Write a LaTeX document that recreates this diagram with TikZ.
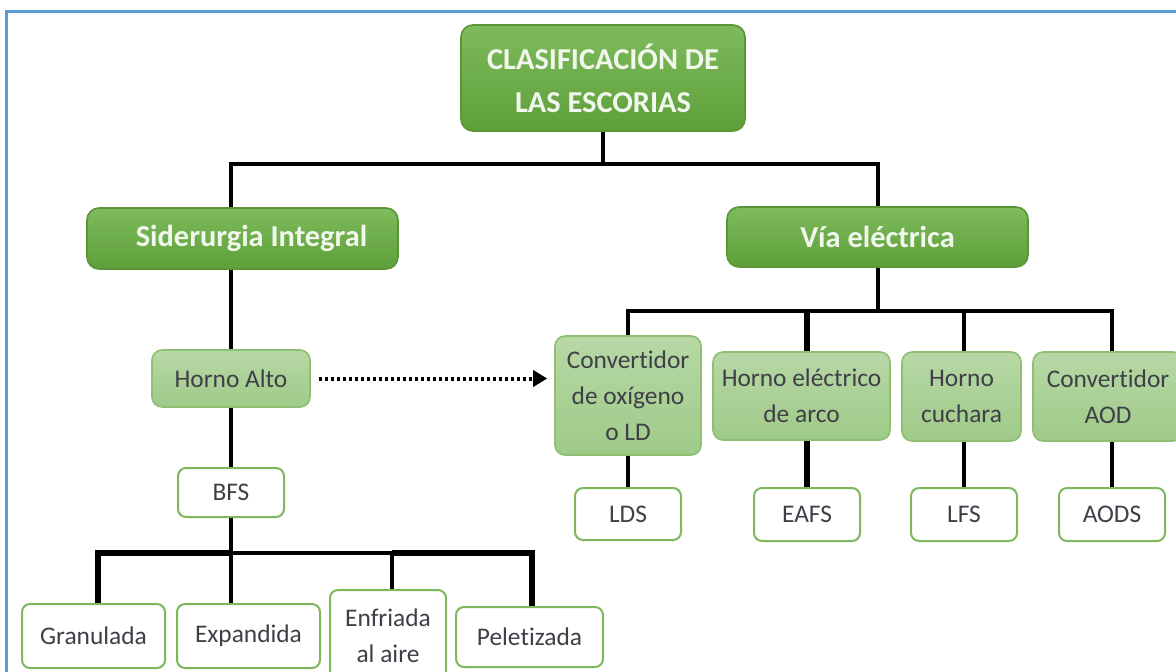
\documentclass[tikz,border=0pt]{standalone}
\usepackage{fontspec}
\setmainfont{Carlito}[Ligatures=NoCommon]
\usetikzlibrary{positioning,arrows.meta}

\definecolor{leaftop}{HTML}{7EBB5C}
\definecolor{leafbottom}{HTML}{5E9F3A}
\definecolor{leafborder}{HTML}{5A9638}
\definecolor{leaftext}{HTML}{F1F7EC}
\definecolor{paletop}{HTML}{B7D8A6}
\definecolor{palebottom}{HTML}{9FCA88}
\definecolor{paleborder}{HTML}{8DC072}
\definecolor{slagborder}{HTML}{7DB85C}
\definecolor{inkgrey}{HTML}{3F3F48}
\definecolor{frameblue}{HTML}{5B9BD5}

\begin{document}
\begin{tikzpicture}[x=0.5pt,y=-0.5pt,
    every node/.style={align=center,inner sep=0pt},
    mainbox/.style={draw=leafborder,line width=0.8pt,rounded corners=6pt,
        top color=leaftop,bottom color=leafbottom,text=leaftext,
        font=\bfseries\fontsize{15.2}{21.5}\selectfont},
    furnace/.style={draw=paleborder,line width=0.8pt,rounded corners=5pt,
        top color=paletop,bottom color=palebottom,text=inkgrey,
        font=\fontsize{12.7}{18}\selectfont},
    slagbox/.style={draw=slagborder,line width=1pt,rounded corners=4pt,
        fill=white,text=inkgrey,font=\fontsize{12.7}{18}\selectfont},
    tree/.style={draw=black,line width=2pt},
    heavytree/.style={draw=black,line width=3pt}]
    \useasboundingbox (0,0) rectangle (1176,671);
    \clip (0,0) rectangle (1176,671);
    \draw[frameblue,line width=1.5pt] (6,11) rectangle (1190,700);

    %%%%% THE ROOT
    \node[mainbox,minimum width=142pt,minimum height=53pt] (ROOT) at (603,78)
        {CLASIFICACIÓN DE\\LAS ESCORIAS};
    \node[mainbox,minimum width=155.5pt,minimum height=30.5pt] (SID) at (242.5,238.5)
        {\hspace*{9pt}Siderurgia Integral};
    \node[mainbox,minimum width=150.5pt,minimum height=30pt] (VIA) at (877.5,237)
        {Vía eléctrica};

    %%%%% SIDERURGIA INTEGRAL
    \begin{scope}
      \node[furnace,minimum width=79pt,minimum height=28.5pt] (HA) at (231,378.5) {Horno Alto};
      \node[slagbox,minimum width=53pt,minimum height=24.5pt] (BFS) at (231,492.5) {BFS};
      \node[slagbox,minimum width=71.5pt,minimum height=32pt] (GRAN) at (93.5,636) {Granulada};
      \node[slagbox,minimum width=71.5pt,minimum height=32pt] (EXP) at (248.5,636) {Expandida};
      \node[slagbox,minimum width=58pt,minimum height=46pt] (ENF) at (388,636) {Enfriada\\al aire};
      \node[slagbox,minimum width=73.5pt,minimum height=30pt] (PEL) at (529.5,637) {Peletizada};
    \end{scope}

    %%%%% VIA ELECTRICA
    \begin{scope}
      \node[furnace,minimum width=73pt,minimum height=59.5pt] (LD) at (628,395.5)
          {Convertidor\\de oxígeno\\o LD};
      \node[furnace,minimum width=88.5pt,minimum height=44pt] (EAF) at (801.5,396)
          {Horno eléctrico\\de arco};
      \node[furnace,minimum width=59.5pt,minimum height=44.5pt] (LF) at (961.5,396.5)
          {Horno\\cuchara};
      \node[furnace,minimum width=75pt,minimum height=44.5pt] (AOD) at (1108,396.5)
          {Convertidor\\AOD};
      \node[slagbox,minimum width=53pt,minimum height=26pt] (LDS) at (628,514) {LDS};
      \node[slagbox,minimum width=53pt,minimum height=26.5pt] (EAFS) at (807,514.5) {EAFS};
      \node[slagbox,minimum width=53pt,minimum height=26.5pt] (LFS) at (964,514.5) {LFS};
      \node[slagbox,minimum width=53pt,minimum height=26.5pt] (AODS) at (1112,514.5) {AODS};
    \end{scope}

    %%%% LINKS OF THE TREE
    \draw[tree] (ROOT.south) -- ++(0,32) coordinate (TOPBAR);
    \draw[tree] (SID.north -| HA.north) |- (TOPBAR) -| (VIA.north);
    \draw[tree] (SID.south -| HA.north) -- (HA.north);
    \draw[tree] (HA) -- (BFS);
    \draw[tree] (BFS.south) -- (BFS.south |- EXP.north);
    \coordinate (LOWBAR) at (BFS.south |- 0,553);
    \draw[heavytree] ([xshift=2pt]GRAN.north) |- (LOWBAR);
    \draw[tree] (LOWBAR) -| ([xshift=2pt]ENF.north);
    \draw[heavytree] ([xshift=2pt]ENF.north |- LOWBAR) -| ([xshift=1pt]PEL.north);

    \draw[tree] (VIA.south) -- ++(0,43) coordinate (RIGHTBAR);
    \draw[tree] (LD.north) |- (RIGHTBAR) -| ([xshift=2pt]AOD.north);
    \draw[heavytree] (RIGHTBAR -| EAFS.north) -- (EAFS.north |- EAF.north);
    \draw[tree] (RIGHTBAR -| LFS.north) -- (LFS.north |- LF.north);
    \draw[tree] (LD) -- (LDS);
    \draw[heavytree] (EAFS.north |- EAF.south) -- (EAFS.north);
    \draw[tree] (LFS.north |- LF.south) -- (LFS.north);
    \draw[tree] (AODS.north |- AOD.south) -- (AODS.north);

    %%%% LINK FROM HORNO ALTO TO THE CONVERTER
    \draw[line width=2pt,dash pattern=on 1.5pt off 1.5pt,
        -{Triangle[length=7pt,width=8pt]},shorten <=4pt,shorten >=3.5pt] (HA.east) -- (LD.west |- HA.east);
\end{tikzpicture}
\end{document}
